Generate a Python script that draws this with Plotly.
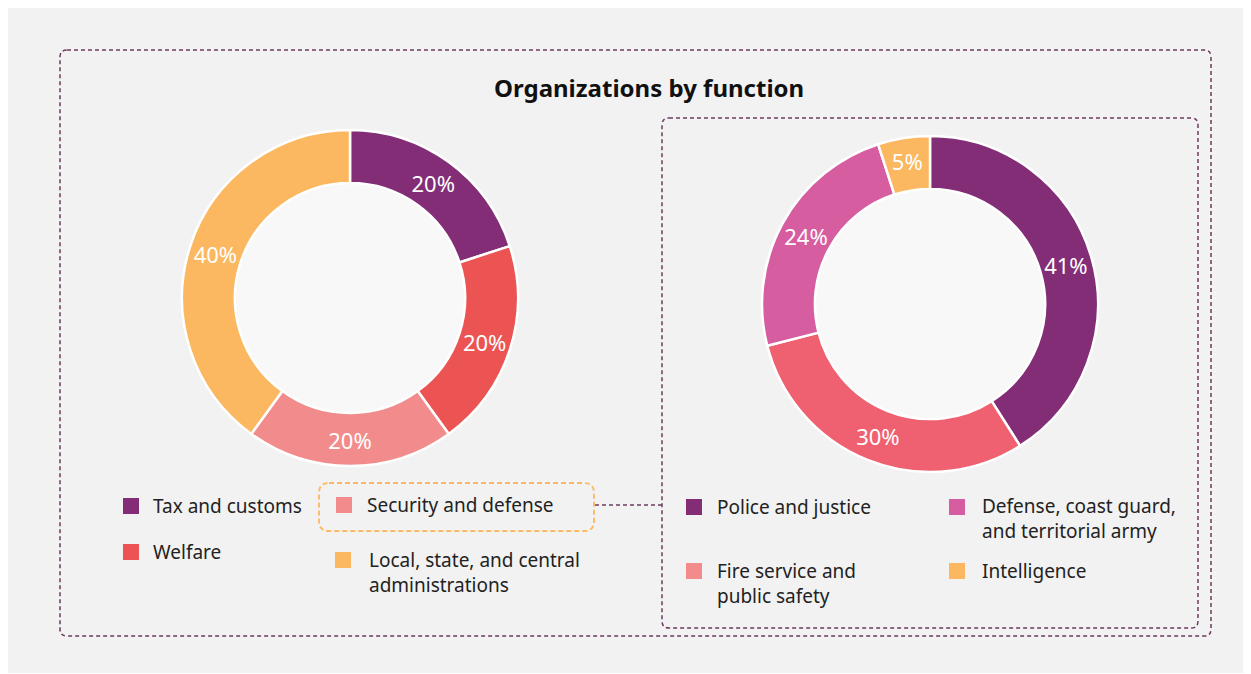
import plotly.graph_objects as go

# page body has an 8px margin: figure is placed at (8, 8)
OFF = 8
FW, FH = 1243, 665
FONT = "Noto Sans"

# ---- data ----
left_labels = ["Tax and customs", "Welfare", "Security and defense",
               "Local, state, and central administrations"]
left_values = [20, 20, 20, 40]
left_colors = ["#832d77", "#ec5454", "#f28c8c", "#fbb860"]

right_labels = ["Police and justice", "Fire service and public safety",
                "Defense, coast guard, and territorial army", "Intelligence"]
right_values = [41, 30, 24, 5]
right_colors = ["#832d77", "#ef6070", "#d65ea0", "#fbb860"]
right_legend_colors = ["#832d77", "#f28c8c", "#d65ea0", "#fbb860"]

title_text = "Organizations by function"


def X(px):
    return (px - OFF) / FW


def Y(py):
    return 1 - (py - OFF) / FH


def rrect_path(x0, y0, x1, y1, r):
    p = [
        f"M {X(x0 + r)},{Y(y0)}",
        f"L {X(x1 - r)},{Y(y0)}",
        f"Q {X(x1)},{Y(y0)} {X(x1)},{Y(y0 + r)}",
        f"L {X(x1)},{Y(y1 - r)}",
        f"Q {X(x1)},{Y(y1)} {X(x1 - r)},{Y(y1)}",
        f"L {X(x0 + r)},{Y(y1)}",
        f"Q {X(x0)},{Y(y1)} {X(x0)},{Y(y1 - r)}",
        f"L {X(x0)},{Y(y0 + r)}",
        f"Q {X(x0)},{Y(y0)} {X(x0 + r)},{Y(y0)}",
        "Z",
    ]
    return " ".join(p)


fig = go.Figure()

R = 168
HOLE = 0.685
pies = [
    (left_labels, left_values, left_colors, (350, 298)),
    (right_labels, right_values, right_colors, (930, 304)),
]
for labels, values, colors, (cx, cy) in pies:
    fig.add_trace(go.Pie(
        labels=labels, values=values,
        marker=dict(colors=colors, line=dict(color="white", width=2.5)),
        hole=HOLE, sort=False, direction="clockwise", rotation=0,
        texttemplate="%{value}%", textposition="inside",
        insidetextorientation="horizontal",
        textfont=dict(family=FONT, size=22, color="white"),
        domain=dict(x=[X(cx - R), X(cx + R)], y=[Y(cy + R), Y(cy - R)]),
        showlegend=False, hoverinfo="skip",
    ))

shapes = []
# donut hole fills
for _, _, _, (cx, cy) in pies:
    r = R * HOLE
    shapes.append(dict(type="circle", xref="paper", yref="paper",
                       x0=X(cx - r), x1=X(cx + r), y0=Y(cy + r), y1=Y(cy - r),
                       fillcolor="#f8f8f8", line=dict(width=0), layer="below"))

DASH_COL = "#6e3a5e"
shapes.append(dict(type="path", xref="paper", yref="paper",
                   path=rrect_path(60, 50, 1211, 636, 7),
                   line=dict(color=DASH_COL, width=1.5, dash="4px,3px")))
shapes.append(dict(type="path", xref="paper", yref="paper",
                   path=rrect_path(662, 118, 1198, 628, 7),
                   line=dict(color=DASH_COL, width=1.5, dash="4px,3px")))
shapes.append(dict(type="path", xref="paper", yref="paper",
                   path=rrect_path(319, 483, 594, 531, 10),
                   line=dict(color="#fbb860", width=1.8, dash="5px,3px")))
shapes.append(dict(type="line", xref="paper", yref="paper",
                   x0=X(595), x1=X(662), y0=Y(505), y1=Y(505),
                   line=dict(color=DASH_COL, width=1.5, dash="4px,3px")))

annotations = [dict(text=f"<b>{title_text}</b>", x=X(649), y=Y(87),
                    xref="paper", yref="paper", showarrow=False,
                    xanchor="center", yanchor="middle",
                    font=dict(family=FONT, size=24, color="#111111"))]

LINE_H = 24
SQ = 16


def legend_item(text_lines, color, sq_cx, text_x, y_first):
    shapes.append(dict(type="rect", xref="paper", yref="paper",
                       x0=X(sq_cx - SQ / 2), x1=X(sq_cx + SQ / 2),
                       y0=Y(y_first + SQ / 2), y1=Y(y_first - SQ / 2),
                       fillcolor=color, line=dict(width=0)))
    n = len(text_lines)
    yc = y_first + (n - 1) * LINE_H / 2
    annotations.append(dict(text="<br>".join(text_lines), x=X(text_x), y=Y(yc),
                            xref="paper", yref="paper", showarrow=False,
                            xanchor="left", yanchor="middle", align="left",
                            font=dict(family=FONT, size=19, color="#222222")))


legend_item(["Tax and customs"], left_colors[0], 131, 151, 506)
legend_item(["Welfare"], left_colors[1], 131, 151, 552)
legend_item(["Security and defense"], left_colors[2], 344, 365, 505)
legend_item(["Local, state, and central", "administrations"], left_colors[3], 343, 367, 560)

legend_item(["Police and justice"], right_legend_colors[0], 694, 715, 507)
legend_item(["Defense, coast guard,", "and territorial army"], right_legend_colors[2], 957, 980, 507)
legend_item(["Fire service and", "public safety"], right_legend_colors[1], 694, 715, 571)
legend_item(["Intelligence"], right_legend_colors[3], 957, 980, 571)

fig.update_layout(
    width=FW, height=FH,
    margin=dict(l=0, r=0, t=0, b=0),
    paper_bgcolor="#f2f2f2",
    shapes=shapes, annotations=annotations,
    hovermode=False,
    uniformtext=dict(minsize=22, mode="show"),
)

fig.write_html("out.html")
